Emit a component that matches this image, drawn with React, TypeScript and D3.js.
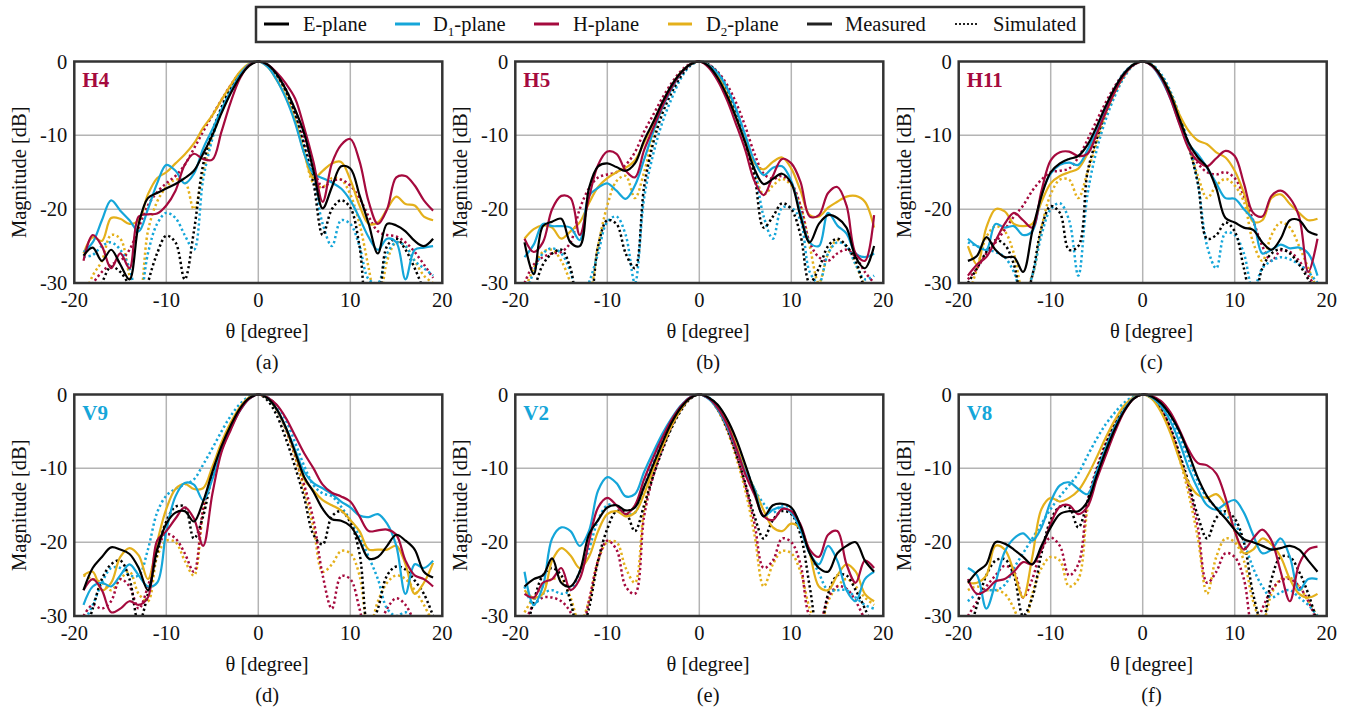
import React from 'react';
import * as d3 from 'd3';

// ---------- data ----------
const THETA = [-19,-18,-17,-16,-15,-14,-13,-12,-11,-10,-9,-8,-7,-6,-5,-4,-3,-2,-1,0,1,2,3,4,5,6,7,8,9,10,11,12,13,14,15,16,17,18,19];
const X_TICKS = [-20, -10, 0, 10, 20];
const Y_TICKS = [0, -10, -20, -30];
const X_GRID = [-10, 0, 10];
const Y_GRID = [-10, -20];

// (a) H4
const a_E_meas = [-26.3,-25.2,-27,-25.5,-27.5,-29.5,-22,-18.5,-17.8,-17.2,-16.6,-15.8,-14.8,-12.5,-10,-7,-4.3,-2.1,-0.6,0,-0.4,-1.7,-3.8,-6.5,-9.8,-14.8,-19.9,-17,-14.2,-14.5,-18.1,-22,-26,-22,-22.2,-23,-24.3,-25,-24];
const a_D1_meas = [-25.8,-24.5,-21.5,-18.8,-20.2,-21.5,-23,-20,-16.5,-14,-14.8,-16.5,-15.2,-11.8,-9.2,-6.5,-4,-1.8,-0.4,0,-0.7,-2.5,-5,-8.3,-12.5,-15.2,-15.8,-16.4,-17.2,-18.8,-21.2,-23.8,-25.5,-24,-24.5,-29.5,-25.5,-25.2,-25];
const a_H_meas = [-27,-23.5,-25,-28,-26,-28,-21,-20.7,-20.6,-19.5,-17.5,-14,-12.5,-13.2,-13.3,-9.5,-5.5,-2.3,-0.5,0,-0.4,-1.5,-3,-5,-9,-13.6,-19,-13.8,-11.3,-10.5,-13.5,-19,-22,-20,-15.7,-15.5,-16.8,-18.8,-20.2];
const a_D2_meas = [-26,-23.8,-24.3,-21.2,-21.3,-22,-21.5,-18,-15.8,-15,-13.8,-12.6,-11.1,-9,-7.3,-5.2,-3.2,-1.4,-0.3,0,-0.7,-2.5,-4.8,-8,-12.5,-15.8,-14.8,-13.8,-13.6,-16,-19.5,-22,-21.8,-20,-18.3,-19.3,-19.5,-21,-21.5];
const a_E_sim = [-35,-33,-30,-27.8,-28.5,-30.5,-35,-30,-26,-23.6,-24.5,-29.5,-23,-14,-9.5,-6.2,-3.6,-1.6,-0.4,0,-0.5,-1.8,-4,-7.3,-11.5,-16.5,-23.5,-20,-18.8,-19.8,-25,-35,-33,-25,-24,-25.5,-28,-31,-34];
const a_D1_sim = [-26.5,-26.2,-25,-24.5,-25.5,-28,-33,-26,-22,-20.5,-21.2,-23.5,-25.5,-16,-10.5,-6.5,-3.8,-1.7,-0.4,0,-0.5,-1.8,-4,-7.3,-11.5,-16,-22,-25,-21.5,-22,-25,-29.5,-30,-26,-24.5,-25,-27,-28,-29];
const a_H_sim = [-31,-30,-28.5,-27.5,-27,-25.5,-22.5,-19.5,-17.7,-16.5,-15.5,-14,-11.8,-9.5,-7.3,-5.2,-3.2,-1.5,-0.4,0,-0.5,-1.8,-3.8,-6.8,-10.5,-14.5,-17,-16.2,-16,-16.8,-18.5,-21,-23,-23.5,-23.7,-24.5,-25.8,-27.5,-29.3];
const a_D2_sim = [-32,-29,-27,-23.5,-24,-29,-33,-23,-19,-17,-16,-16.2,-20,-15,-10,-6.5,-3.8,-1.7,-0.4,0,-0.5,-2,-4.3,-7.8,-12,-16.5,-17,-15.8,-16,-18,-22,-28,-34,-27,-24.5,-25,-27,-29,-30];

// (b) H5
const b_E_meas = [-24.5,-28.8,-22.3,-21.7,-21.3,-24.5,-25,-17.2,-14.2,-13.8,-14.3,-14.8,-13.8,-10.7,-8.2,-5.5,-3.2,-1.5,-0.4,0,-0.6,-2.2,-4.6,-7.6,-11,-14.6,-16.6,-15.9,-15.2,-16.5,-21,-24.5,-22,-20.8,-21.2,-22.5,-26.5,-28,-25];
const b_D1_meas = [-26.5,-24.8,-22,-22.3,-22.3,-22.5,-24.2,-18.2,-17.1,-16.5,-17.5,-18.6,-16.8,-13.3,-9.5,-6.2,-3.7,-1.6,-0.4,0,-0.5,-1.6,-3.6,-6.5,-10,-13.5,-15.4,-14.4,-14.2,-16.2,-20.5,-24.5,-25,-20.5,-22.2,-23.3,-26,-26.5,-26];
const b_H_meas = [-24,-25.8,-24.5,-20,-18.2,-18.5,-23.5,-18.5,-14,-12.2,-12.5,-14.8,-15.7,-12,-9,-6,-3.5,-1.6,-0.4,0,-0.8,-2.6,-5.2,-8.5,-12,-16.2,-18.1,-15.5,-13.2,-13.8,-16.3,-21,-20.8,-17.8,-17,-19.5,-26,-27,-20.8];
const b_D2_meas = [-24,-22.7,-22.2,-22.5,-24,-23,-21.8,-19.2,-17,-15.8,-15,-14.4,-13.4,-11,-8.3,-5.6,-3.3,-1.5,-0.4,0,-0.5,-1.9,-4.4,-7.6,-10.8,-13.8,-14.6,-13.6,-13,-14.5,-17.5,-20.8,-21,-19.8,-19,-18.3,-18.2,-19,-22.5];
const b_E_sim = [-34,-31,-27.5,-26,-25.5,-28,-34,-33,-25,-21.5,-22,-26,-28,-17,-11,-7,-4.2,-2,-0.5,0,-0.4,-1.6,-3.8,-7,-11,-15.5,-22.5,-21,-19.2,-20,-23.5,-30,-28,-25,-24,-25,-27,-31,-34];
const b_D1_sim = [-32,-28.5,-26,-25.3,-26,-28.5,-33,-30,-26,-21.7,-21,-23.5,-30,-18.5,-12.5,-8.2,-5,-2.3,-0.6,0,-0.4,-1.5,-3.5,-6.5,-10.3,-14.5,-21,-24,-19.8,-19.8,-21.5,-28.5,-30,-26,-24.5,-25,-27.5,-29.5,-29];
const b_H_sim = [-30,-27.5,-26.5,-26,-25.8,-24.5,-20,-17.2,-15.7,-15.3,-15,-14,-12.3,-9.5,-7.2,-4.9,-2.9,-1.3,-0.3,0,-0.4,-1.4,-3.1,-5.6,-8.8,-12.5,-15.2,-15.9,-15.5,-16.5,-19.5,-24.5,-26.5,-27,-26,-25.5,-26.5,-28.5,-30];
const b_D2_sim = [-31,-28,-25.8,-25.5,-27,-30,-34,-32,-25,-19.5,-16.2,-15.5,-18.5,-15,-10,-6.5,-3.9,-1.8,-0.4,0,-0.5,-1.8,-4,-7.2,-11,-15,-18,-16.8,-15.9,-16.8,-19.5,-25,-30,-26,-24.2,-25,-27.5,-30.5,-33];

// (c) H11
const c_E_meas = [-27,-26.3,-23.8,-25.5,-26.5,-26.5,-28.5,-23,-18.2,-15,-13.8,-13.2,-12.8,-11.3,-8.8,-6,-3.5,-1.6,-0.4,0,-0.5,-2,-4.4,-7.8,-11,-13,-14.3,-17.2,-21.2,-21.8,-22.5,-22.8,-24.5,-25.5,-24,-21.5,-21.5,-23,-23.5];
const c_D1_meas = [-24,-25,-25.5,-22,-22.5,-22.3,-23.5,-23,-18,-15.2,-14,-13.7,-14,-12,-9.2,-6.2,-3.6,-1.5,-0.4,0,-0.6,-2.4,-5,-8.4,-11.2,-12.6,-14.4,-16.5,-18.5,-18.6,-20,-21.5,-26,-25.5,-24.8,-25.3,-25.2,-26,-29];
const c_H_meas = [-29,-27.5,-26.5,-24.3,-22,-20.5,-21.5,-22.5,-17.5,-13.4,-12.3,-12.2,-12.8,-12.5,-9.8,-6.8,-4,-1.8,-0.5,0,-0.6,-2.2,-5,-8.5,-11.8,-13.5,-14.2,-13.1,-12.1,-12.8,-16.5,-20.5,-21,-18.2,-17.5,-18.5,-21,-28.5,-24];
const c_D2_meas = [-25,-27.5,-22.5,-20,-20.3,-22,-22.3,-22,-19,-16.5,-15.5,-15,-14.5,-12.5,-9.8,-6.8,-4,-1.8,-0.4,0,-0.5,-2,-4.3,-7.2,-9.4,-10.7,-11.2,-12.3,-13,-14.8,-17.8,-21.7,-21.5,-18.5,-18,-19.3,-20.5,-21.5,-21.3];
const c_E_sim = [-30,-28,-25.8,-24.2,-24.8,-27.5,-33,-29,-22.5,-19.6,-20.5,-25.5,-25,-15,-10.5,-6.8,-4,-1.8,-0.4,0,-0.5,-2,-4.3,-7.6,-11.5,-16.5,-24,-23.5,-21.8,-23,-28,-33,-28,-26,-25.4,-26,-27.5,-29.5,-32];
const c_D1_sim = [-24.5,-25,-25.5,-25.8,-26.5,-28.5,-32,-29,-23.5,-20,-19.2,-21.5,-29,-18,-12,-7.8,-4.6,-2.1,-0.5,0,-0.4,-1.7,-4,-7.3,-11.2,-16.5,-25,-28,-23.2,-23.5,-26,-31,-28,-27,-26.5,-26.8,-27.5,-28.5,-30];
const c_H_sim = [-29.5,-28,-26,-24.5,-22.8,-21,-19.5,-17.5,-16,-15,-14.8,-14.5,-13,-10.6,-8,-5.5,-3.3,-1.5,-0.4,0,-0.5,-2,-4.5,-8,-11.5,-13.8,-15,-15.3,-15,-15.8,-18.2,-21.5,-25,-27,-25.6,-25.8,-27,-29,-31];
const c_D2_sim = [-32,-28,-23.8,-22.3,-23,-26,-31,-29,-22.5,-18,-16,-16,-18.5,-15,-11,-7.2,-4.3,-2,-0.5,0,-0.5,-2,-4.3,-7.6,-11.5,-15.5,-18.5,-16.8,-15.9,-16.8,-19,-24.5,-27,-23.5,-21.8,-22.5,-25,-28,-31];

// (d) V9
const d_E_meas = [-26.5,-23.5,-22,-20.7,-21,-21.6,-23.5,-26.5,-21,-17.5,-16,-15.8,-17.2,-14.5,-10.5,-7,-4.2,-1.9,-0.5,0,-0.5,-2,-4.5,-7.8,-11.2,-13.2,-15.5,-16.9,-17.1,-17.8,-19.8,-22.2,-22,-20.5,-19,-19.8,-21,-24,-24.8];
const d_D1_meas = [-28.5,-26,-25.5,-26,-24.5,-23,-24.5,-26,-25.5,-18.5,-13.8,-12,-12.2,-14.3,-11.5,-7.5,-4.6,-2.2,-0.6,0,-0.5,-2,-4.5,-7.5,-10.5,-12,-12.7,-13.5,-14.5,-15.3,-16.4,-16.6,-16.2,-17.5,-20.5,-27,-23,-23.5,-22.5];
const d_H_meas = [-26.5,-25,-26.5,-29.5,-29,-28,-28.5,-27.5,-19.8,-18.5,-16.8,-15.3,-16.8,-20.5,-13.5,-7.8,-4.8,-2.2,-0.6,0,-0.4,-1.4,-3.2,-5.6,-8,-10,-12.2,-13.3,-13.8,-14.5,-16.5,-18.5,-18.4,-18.3,-19,-22.5,-24.5,-25,-26];
const d_D2_meas = [-24.5,-24,-26.5,-25.5,-22,-20.8,-21.8,-25,-20,-15.5,-12.8,-12.1,-12.8,-12.7,-9.8,-6.5,-3.8,-1.7,-0.4,0,-0.5,-2,-4.6,-8,-11.5,-13,-14.3,-15,-15.7,-17,-18.5,-21,-21,-21,-20.5,-23,-27,-25.5,-22.8];
const d_E_sim = [-33,-29,-25,-23,-22.5,-25,-31,-27,-21.5,-17.2,-15.2,-15.2,-19.5,-16.5,-10.8,-7.2,-4.2,-2,-0.5,0,-0.8,-2.8,-6,-9.8,-14,-19,-20.3,-16.5,-15.8,-17.3,-21.5,-32,-29,-24.5,-23.3,-23.7,-25.2,-27,-30];
const d_D1_sim = [-31,-28.5,-25.5,-23.5,-23.5,-24.5,-24.5,-21,-16,-13.7,-12.8,-12.2,-11.5,-9.5,-7.3,-5,-2.9,-1.3,-0.3,0,-0.4,-1.5,-3.5,-6.5,-9.7,-12.3,-13.4,-13.8,-15.2,-17,-19.2,-22,-25,-29,-30,-29.5,-31,-33,-35];
const d_H_sim = [-30,-28.5,-29,-28,-25,-26,-29,-26,-21,-18.9,-19.5,-21.5,-24,-15.5,-11,-7.5,-4.5,-2.1,-0.5,0,-0.5,-2,-4.7,-8.2,-12.3,-17,-24.5,-29,-24.6,-25,-29,-34,-32,-29,-27.6,-28.5,-31,-34,-36];
const d_D2_sim = [-24.5,-25,-25.5,-26.5,-25,-24,-27,-28,-22,-19.8,-20,-22.5,-24.5,-16,-10.8,-7.2,-4.3,-2,-0.5,0,-0.5,-2.1,-4.8,-8.5,-13,-18,-24,-23,-21.2,-21.5,-24.5,-32,-28,-25.5,-24.5,-25,-26.5,-28.5,-31];

// (e) V2
const e_E_meas = [-26,-25,-24.5,-22.2,-25.5,-26,-24,-19,-17,-15.3,-15,-15.7,-15.3,-12.5,-9.5,-6.5,-3.8,-1.8,-0.5,0,-0.4,-1.4,-3.3,-6,-9.5,-13.2,-16.5,-15,-14.8,-15.3,-17.8,-21.5,-23.5,-24,-21.5,-20.5,-20,-22.5,-24];
const e_D1_meas = [-24,-28.5,-26,-19.5,-18,-18.5,-20.5,-18.5,-13,-11.2,-12,-13.8,-13.5,-10.5,-7.8,-5.3,-3.2,-1.5,-0.4,0,-0.6,-2,-4.3,-7.3,-10.5,-12.8,-16.5,-15.6,-15.3,-16,-18.3,-21.5,-23,-20.5,-22.5,-26.5,-28,-25,-24];
const e_H_meas = [-27,-27.5,-25.5,-25,-23.5,-26.5,-25,-20,-15.3,-14,-15,-16.2,-15,-11.5,-8.5,-5.8,-3.4,-1.6,-0.4,0,-0.5,-1.8,-4,-7.2,-10.8,-13.6,-16.5,-17,-15.5,-15.8,-17.6,-21,-22,-19,-18.5,-23,-25.5,-22.5,-23.5];
const e_D2_meas = [-26.5,-27.5,-27,-22.5,-20.8,-21.8,-23.5,-22,-18.5,-16.2,-15.8,-16.5,-16,-13.5,-10,-7,-4.2,-2,-0.5,0,-0.5,-1.8,-3.8,-6.8,-10.2,-12.8,-15.7,-18,-18.5,-17.5,-18.2,-21.5,-26,-26.5,-24.5,-23,-24,-27,-28];
const e_E_sim = [-33,-28,-24.5,-23.5,-24.5,-28,-33,-29,-22.5,-18.2,-15.8,-16,-18.5,-15,-11,-7.5,-4.5,-2.2,-0.6,0,-0.5,-2,-4.5,-8,-12,-16.5,-19.5,-17,-15.8,-16.2,-19,-26,-33,-27,-24.5,-24.5,-26.5,-29,-32];
const e_D1_sim = [-26,-28.5,-27,-26.5,-27,-26.5,-24,-21,-17,-15,-15,-16.2,-16,-12.5,-8.8,-5.8,-3.4,-1.6,-0.4,0,-0.4,-1.5,-3.5,-6.5,-9.8,-12.8,-14.8,-16,-15,-15.5,-17.8,-21.5,-24.2,-26.5,-26.5,-26.5,-27.5,-28.5,-29];
const e_H_sim = [-31,-28.5,-27.5,-27.5,-28,-29.5,-33,-28,-22.5,-19.8,-21,-26,-27,-16.5,-11,-7.3,-4.3,-2,-0.5,0,-0.5,-2,-4.5,-8,-12.3,-17.5,-23.5,-22.5,-19.5,-20,-23,-30,-31,-27.5,-26,-26.3,-28,-30.5,-33];
const e_D2_sim = [-29.5,-27.5,-26,-25,-25,-27.5,-31,-28,-22.5,-20,-20,-23.5,-25.5,-15.5,-10.5,-7,-4.2,-2,-0.5,0,-0.5,-2.1,-4.8,-8.5,-13,-19,-26,-23,-21.2,-21.5,-24,-29,-32,-28,-26,-25,-26,-27.5,-28.5];

// (f) V8
const f_E_meas = [-25.5,-24,-23,-20,-20.2,-21,-22,-23,-20.5,-18,-16.2,-15.8,-15.8,-14.5,-11,-7.6,-4.6,-2.2,-0.6,0,-0.3,-1.2,-2.8,-5,-8,-11.3,-13.8,-15.4,-16.8,-18.3,-19.6,-20,-20.5,-21,-20.8,-20.5,-21,-22.5,-24];
const f_D1_meas = [-23.5,-24.5,-29,-25.5,-21.3,-19.5,-18.8,-19.8,-18,-14.5,-12.3,-11.9,-12.8,-13.5,-10.5,-7.2,-4.3,-2,-0.5,0,-0.4,-1.6,-3.6,-6.5,-10,-12.8,-15,-15.6,-14.8,-14.3,-16,-19,-21.5,-21,-19.5,-22,-26.5,-25,-25];
const f_H_meas = [-25,-27,-26.5,-25.3,-25,-24,-22.7,-23,-21,-17.5,-15.2,-15,-16.2,-15.2,-11.5,-8.2,-5,-2.3,-0.6,0,-0.2,-0.9,-2.4,-4.8,-7.5,-9.3,-9.6,-10.7,-14,-18.5,-21,-19.5,-18.3,-19.8,-24,-28,-23,-21,-20.6];
const f_D2_meas = [-25.5,-25.5,-24.5,-20.5,-21,-24,-27.5,-22,-15.5,-14,-14.5,-14,-13,-11,-8.5,-5.8,-3.4,-1.5,-0.4,0,-0.6,-2.4,-5.2,-8.8,-12,-13.6,-14,-13.5,-15,-18.5,-21.5,-21,-19.5,-20.3,-22,-25,-27,-27.5,-27];
const f_E_sim = [-33,-28.5,-24.5,-22.5,-22.3,-24.5,-30,-27.5,-21.5,-17,-15.2,-15.3,-18,-14.5,-10.3,-6.8,-4,-1.9,-0.5,0,-0.5,-2,-4.5,-8,-12,-16.5,-19.5,-16.7,-15.8,-16.8,-20,-27,-31,-25,-22,-22,-24,-27,-31];
const f_D1_sim = [-28,-27,-26.5,-26.5,-25.8,-23.5,-21.5,-19.5,-17.5,-15.5,-13.8,-12.3,-10.7,-8.3,-6,-4,-2.4,-1.1,-0.3,0,-0.3,-1.3,-3,-5.6,-8.8,-11.8,-14,-15.3,-16.3,-17.5,-20,-23.5,-26,-27.5,-26.8,-26.5,-27.5,-28.5,-30];
const f_H_sim = [-30,-28,-26,-24.5,-23.2,-24,-27.5,-25,-21,-19.4,-20.5,-24.5,-23,-14.5,-10,-6.5,-3.9,-1.8,-0.4,0,-0.5,-2,-4.6,-8.3,-12.5,-18,-25.5,-24,-21.5,-22,-25,-32,-29,-26.5,-25.2,-25,-26,-28,-31];
const f_D2_sim = [-26.5,-26,-26.5,-26.5,-27,-29,-32,-27,-23.5,-22,-22.5,-26,-25,-15.5,-10.5,-7,-4.2,-2,-0.5,0,-0.5,-2.1,-4.8,-8.7,-13.5,-19.5,-27,-22,-19.5,-20,-22.5,-28,-31,-27,-25,-24.8,-26,-28,-30];

// ---------- style ----------
const BLACK = '#000000';
const BLUE = '#15a6d9';
const RED = '#a50a3e';
const GOLD = '#e4b01b';
const FONT = "'Liberation Serif', 'Times New Roman', serif";

const COL_LEFT = [74.3, 515.3, 958.7];
const ROW_TOP = [61.5, 394.5];
const PW = 368;
const PH = 221.5;

type Panel = {
  id: string; title: string; tcolor: string; caption: string; col: number; row: number;
  meas: number[][]; sim: number[][];
};
// series order: E, D1, H, D2
const SERIES_COLORS = [BLACK, BLUE, RED, GOLD];

const PANELS: Panel[] = [
  { id: 'a', title: 'H4', tcolor: RED, caption: '(a)', col: 0, row: 0, meas: [a_E_meas, a_D1_meas, a_H_meas, a_D2_meas], sim: [a_E_sim, a_D1_sim, a_H_sim, a_D2_sim] },
  { id: 'b', title: 'H5', tcolor: RED, caption: '(b)', col: 1, row: 0, meas: [b_E_meas, b_D1_meas, b_H_meas, b_D2_meas], sim: [b_E_sim, b_D1_sim, b_H_sim, b_D2_sim] },
  { id: 'c', title: 'H11', tcolor: RED, caption: '(c)', col: 2, row: 0, meas: [c_E_meas, c_D1_meas, c_H_meas, c_D2_meas], sim: [c_E_sim, c_D1_sim, c_H_sim, c_D2_sim] },
  { id: 'd', title: 'V9', tcolor: BLUE, caption: '(d)', col: 0, row: 1, meas: [d_E_meas, d_D1_meas, d_H_meas, d_D2_meas], sim: [d_E_sim, d_D1_sim, d_H_sim, d_D2_sim] },
  { id: 'e', title: 'V2', tcolor: BLUE, caption: '(e)', col: 1, row: 1, meas: [e_E_meas, e_D1_meas, e_H_meas, e_D2_meas], sim: [e_E_sim, e_D1_sim, e_H_sim, e_D2_sim] },
  { id: 'f', title: 'V8', tcolor: BLUE, caption: '(f)', col: 2, row: 1, meas: [f_E_meas, f_D1_meas, f_H_meas, f_D2_meas], sim: [f_E_sim, f_D1_sim, f_H_sim, f_D2_sim] },
];

const SIM_ORDER = [3, 2, 1, 0];
const MEAS_ORDER = [3, 1, 2, 0];

function PanelView({ p }: { p: Panel }) {
  const left = COL_LEFT[p.col];
  const top = ROW_TOP[p.row];
  const x = d3.scaleLinear().domain([-20, 20]).range([left, left + PW]);
  const y = d3.scaleLinear().domain([-30, 0]).range([top + PH, top]);
  const line = d3.line<number>()
    .x((_, i) => x(THETA[i]))
    .y((d) => y(d))
    .curve(d3.curveCatmullRom.alpha(0.5));
  const clipId = `clip-${p.id}`;
  const bottom = top + PH;
  const cx = left + 192.8;
  return (
    <g>
      <defs>
        <clipPath id={clipId}>
          <rect x={left} y={top - 2} width={PW} height={PH + 2} />
        </clipPath>
      </defs>
      <rect x={left} y={top} width={PW} height={PH} fill="#ffffff" />
      {X_GRID.map((g) => (
        <line key={'gx' + g} x1={x(g)} x2={x(g)} y1={top} y2={bottom} stroke="#b4b4b4" strokeWidth={1.5} />
      ))}
      {Y_GRID.map((g) => (
        <line key={'gy' + g} x1={left} x2={left + PW} y1={y(g)} y2={y(g)} stroke="#b4b4b4" strokeWidth={1.5} />
      ))}
      <g clipPath={`url(#${clipId})`}>
        {SIM_ORDER.map((k) => (
          <path key={'s' + k} d={line(p.sim[k]) || ''} fill="none" stroke={SERIES_COLORS[k]}
            strokeWidth={2.5} strokeDasharray="2.3 2.7" />
        ))}
        {MEAS_ORDER.map((k) => (
          <path key={'m' + k} d={line(p.meas[k]) || ''} fill="none" stroke={SERIES_COLORS[k]}
            strokeWidth={2.2} strokeLinejoin="round" />
        ))}
      </g>
      <rect x={left} y={top} width={PW} height={PH} fill="none" stroke="#333333" strokeWidth={2.5} />
      <text x={left + 8} y={top + 25.5} fill={p.tcolor} fontFamily={FONT} fontWeight="bold" fontSize={21}>{p.title}</text>
      {Y_TICKS.map((t) => (
        <text key={'yt' + t} x={left - 7} y={y(t)} textAnchor="end" dominantBaseline="central"
          fontFamily={FONT} fontSize={20.5} fill="#111">{t}</text>
      ))}
      {X_TICKS.map((t) => (
        <text key={'xt' + t} x={x(t)} y={bottom + 24} textAnchor="middle"
          fontFamily={FONT} fontSize={20.5} fill="#111">{t}</text>
      ))}
      <text transform={`translate(${left - 48},${top + PH / 2}) rotate(-90)`} textAnchor="middle"
        fontFamily={FONT} fontSize={20.5} fill="#111">Magnitude [dB]</text>
      <text x={cx} y={bottom + 55} textAnchor="middle" fontFamily={FONT} fontSize={20.5} fill="#111">θ [degree]</text>
      <text x={cx} y={bottom + 86} textAnchor="middle" fontFamily={FONT} fontSize={20.5} fill="#111">{p.caption}</text>
    </g>
  );
}

function Legend() {
  const ly = 24;
  const ty = 30.5;
  const fs = 20.5;
  return (
    <g fontFamily={FONT} fontSize={fs} fill="#111">
      <rect x={256} y={7} width={828} height={35} fill="#fff" stroke="#333" strokeWidth={2.5} />
      <line x1={264} x2={289} y1={ly} y2={ly} stroke={BLACK} strokeWidth={3} />
      <text x={303} y={ty}>E-plane</text>
      <line x1={395} x2={420} y1={ly} y2={ly} stroke={BLUE} strokeWidth={3} />
      <text x={433} y={ty}>D<tspan fontSize={13} dy={5}>1</tspan><tspan dy={-5}>-plane</tspan></text>
      <line x1={534} x2={559} y1={ly} y2={ly} stroke={RED} strokeWidth={3} />
      <text x={573} y={ty}>H-plane</text>
      <line x1={668} x2={692} y1={ly} y2={ly} stroke={GOLD} strokeWidth={3} />
      <text x={706} y={ty}>D<tspan fontSize={13} dy={5}>2</tspan><tspan dy={-5}>-plane</tspan></text>
      <line x1={807} x2={832} y1={ly} y2={ly} stroke="#222" strokeWidth={3} />
      <text x={845} y={ty}>Measured</text>
      <line x1={955} x2={979} y1={ly} y2={ly} stroke="#222" strokeWidth={2} strokeDasharray="2 2" />
      <text x={993} y={ty}>Simulated</text>
    </g>
  );
}

export default function App() {
  return (
    <svg width={1349} height={709} viewBox="0 0 1349 709"
      style={{ position: 'absolute', left: 0, top: 0, display: 'block', background: '#fff' }}>
      <rect x={0} y={0} width={1349} height={709} fill="#fff" />
      <Legend />
      {PANELS.map((p) => <PanelView key={p.id} p={p} />)}
    </svg>
  );
}
